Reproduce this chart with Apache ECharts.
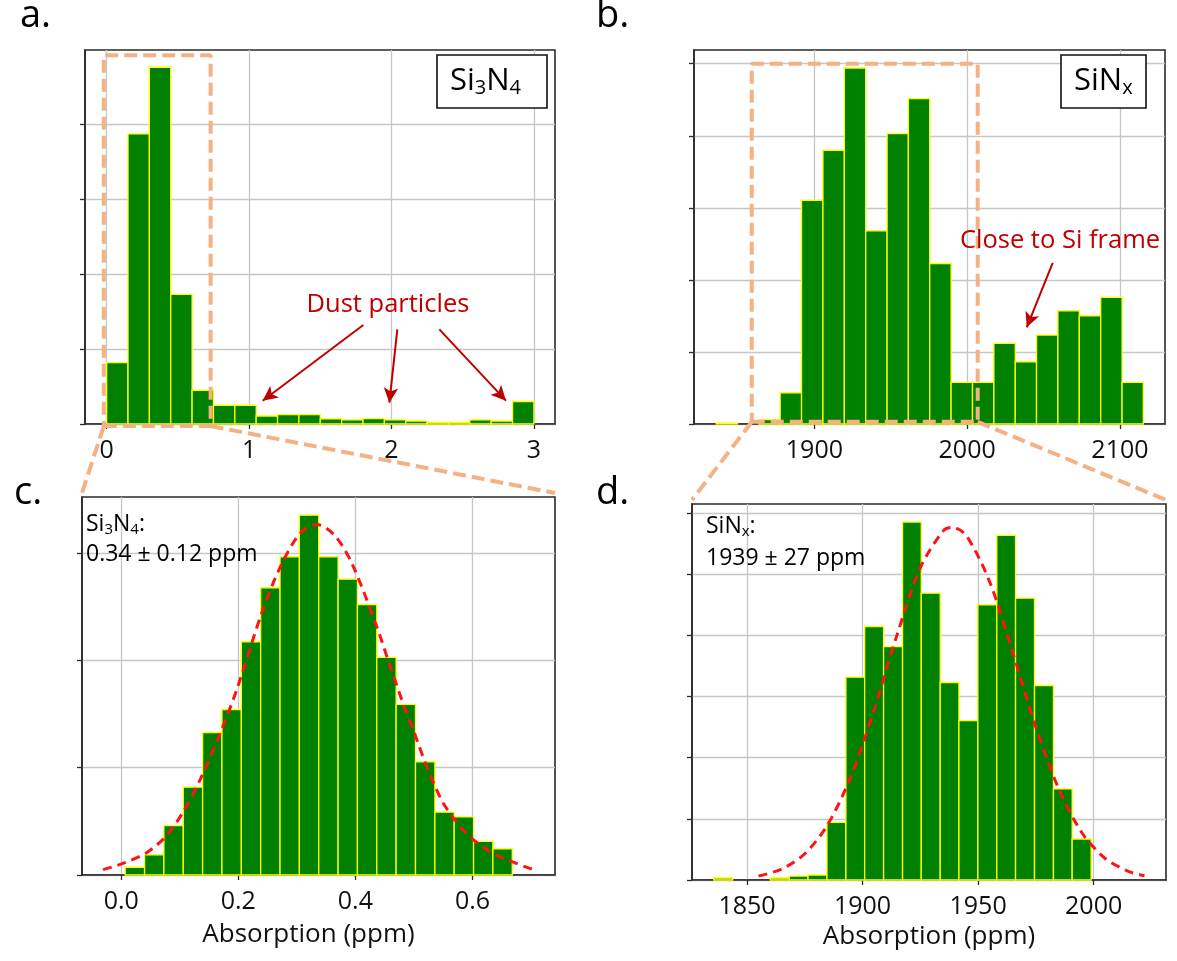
<!DOCTYPE html>
<html><head><meta charset="utf-8">
<script src="https://cdn.jsdelivr.net/npm/echarts@6/dist/echarts.min.js"></script>
<style>html,body{margin:0;padding:0;background:#fff}#c{width:1177px;height:961px}</style>
</head><body><div id="c"></div>
<script>
// ---------- DATA ----------
// panel a: Si3N4 full histogram (bin edges, counts in grid units)
const aEdges = [0,0.15,0.3,0.45,0.6,0.75,0.9,1.05,1.2,1.35,1.5,1.65,1.8,1.95,2.1,2.25,2.4,2.55,2.7,2.85,3.0];
const aCounts = [0.82,3.87,4.76,1.73,0.45,0.25,0.25,0.107,0.124,0.124,0.07,0.055,0.073,0.055,0.04,0.022,0.022,0.055,0.04,0.30];
const aTicks = [0,1,2,3];
const aYTicks = [0,1,2,3,4];
// panel b: SiNx full histogram
const bEdges = [1835.7,1849.7,1863.7,1877.6,1891.6,1905.6,1919.6,1933.6,1947.6,1961.5,1975.5,1989.5,2003.5,2017.5,2031.5,2045.4,2059.4,2073.4,2087.4,2101.4,2115.3];
const bCounts = [0.014,0,0.06,0.434,3.105,3.799,4.94,2.68,4.03,4.515,2.227,0.578,0.578,1.118,0.864,1.234,1.571,1.502,1.756,0.578];
const bTicks = [1900,2000,2100];
const bYTicks = [0,1,2,3,4,5];
// panel c: Si3N4 zoom
const cEdges = [0.0068,0.0399,0.0729,0.1060,0.1390,0.1721,0.2052,0.2382,0.2713,0.3043,0.3374,0.3705,0.4035,0.4366,0.4696,0.5027,0.5358,0.5688,0.6019,0.6349,0.6680];
const cCounts = [0.072,0.188,0.46,0.818,1.327,1.541,2.172,2.675,2.963,3.351,2.963,2.755,2.519,2.026,1.588,1.054,0.585,0.541,0.313,0.244];
const cFitX = [-0.031,0.004,0.044,0.078,0.106,0.135,0.169,0.197,0.240,0.271,0.305,0.334,0.365,0.395,0.436,0.456,0.482,0.499,0.522,0.550,0.584,0.613,0.647,0.704];
const cFitY = [0.05,0.11,0.21,0.37,0.59,0.89,1.32,1.72,2.44,2.86,3.18,3.265,3.16,2.89,2.32,2.00,1.59,1.35,1.01,0.67,0.42,0.28,0.17,0.05];
const cTicks = [0,0.2,0.4,0.6];
const cYTicks = [0,1,2,3];
// panel d: SiNx zoom
const dEdges = [1835.6,1843.8,1851.9,1860.1,1868.3,1876.4,1884.6,1892.8,1900.9,1909.1,1917.3,1925.4,1933.6,1941.7,1949.9,1958.1,1966.2,1974.4,1982.6,1990.7,1998.9];
const dCounts = [0.033,0,0,0.033,0.065,0.082,0.944,3.317,4.146,3.819,5.854,4.692,3.23,2.608,4.501,5.636,4.61,3.181,1.489,0.671];
const dFitX = [1855,1865,1875,1885,1895,1905,1915,1925,1935,1939,1945,1955,1965,1975,1985,1995,2005,2015,2022];
const dFitY = [0.065,0.179,0.43,0.911,1.698,2.782,4.018,5.107,5.714,5.767,5.627,4.877,3.721,2.50,1.479,0.769,0.352,0.142,0.07];
const dTicks = [1850,1900,1950,2000];
const dYTicks = [0,1,2,3,4,5,6];
// zoom boxes [x0,x1,y0,y1] in data units of panels a and b
const aBox = [-0.02,0.73,-0.027,4.92];
const bBox = [1859.0,2006.9,0.03,5.0];
// annotation arrows [[x1,y1],[x2,y2]] in data units
const aArrows = [[[1.802,1.32],[1.0955,0.311]],[[2.041,1.263],[1.985,0.284]],[[2.336,1.263],[2.804,0.311]]];
const bArrows = [[[2056.0,2.237],[2039.0,1.341]]];

// ---------- CHART ----------
const FONT = 'Open Sans';
const chart = echarts.init(document.getElementById('c'), null, {renderer:'canvas'});

const grids = [
  {left:85, top:50, width:470, height:374},
  {left:694, top:50, width:471, height:374},
  {left:82, top:497, width:473, height:378},
  {left:692, top:504, width:474, height:376}
];
const xr = [[-0.152,3.148],[1821.2,2129.5],[-0.067,0.741],[1826.2,2031.3]];
const yr = [[0,4.99],[0,5.19],[0,3.52],[0,6.15]];
const xt = [aTicks,bTicks,cTicks,dTicks];
const yt = [aYTicks,bYTicks,cYTicks,dYTicks];
const fmt = [v=>String(v), v=>String(v), v=>Number(v).toFixed(1), v=>String(v)];

function histData(edges, counts){ return counts.map((c,i)=>[edges[i],edges[i+1],c]); }
function boxData(b){ return [[b[0],b[2]],[b[1],b[2]],[b[1],b[3]],[b[0],b[3]],[b[0],b[2]]]; }
function renderBar(params, api){
  const x0=api.value(0), x1=api.value(1), h=api.value(2);
  if(!(h>0)) return null;
  const p0=api.coord([x0,0]), p1=api.coord([x1,h]);
  return {type:'rect', shape:{x:p0[0], y:p1[1], width:p1[0]-p0[0], height:p0[1]-p1[1]},
          style:{fill:'#008000', stroke:'#ffff00', lineWidth:1.3}};
}
const axisColor = '#2a2a2a';
const gridColor = '#c6c6c6';
const xAxes = grids.map((g,i)=>({
  gridIndex:i, type:'value', min:xr[i][0], max:xr[i][1],
  axisLine:{show:true, onZero:false, lineStyle:{color:axisColor, width:1.6}},
  axisTick:{show:true, length:5, customValues:xt[i], lineStyle:{color:axisColor, width:1.3}},
  axisLabel:{show:true, customValues:xt[i], formatter:fmt[i], fontFamily:FONT, fontSize:25, color:'#111', margin:14},
  splitLine:{show:true, lineStyle:{color:gridColor, width:1.3}},
  name: i>=2 ? 'Absorption (ppm)' : '', nameLocation:'middle', nameGap: i===2?47:44,
  nameTextStyle:{fontFamily:FONT, fontSize:26, color:'#111', padding: i===2?[0,20,0,0]:[0,0,0,0]}
}));
const yAxes = grids.map((g,i)=>({
  gridIndex:i, type:'value', min:yr[i][0], max:yr[i][1],
  axisLine:{show:true, onZero:false, lineStyle:{color:axisColor, width:1.6}},
  axisTick:{show:true, length:5, customValues:yt[i], lineStyle:{color:axisColor, width:1.3}},
  axisLabel:{show:false},
  splitLine:{show:true, lineStyle:{color:gridColor, width:1.3}}
}));
const arrowLine = (arr) => ({
  silent:true, symbol:['none','arrow'], symbolSize:[11,15],
  lineStyle:{color:'#c00000', width:2, type:'solid'}, label:{show:false}, emphasis:{disabled:true},
  data: arr.map(a=>[{coord:a[0]},{coord:a[1]}])
});
const ORANGE = '#f4b183';
const series = [
  {type:'custom', xAxisIndex:0, yAxisIndex:0, renderItem:renderBar, data:histData(aEdges,aCounts), encode:{x:[0,1], y:2}, clip:false, z:2},
  {type:'custom', xAxisIndex:1, yAxisIndex:1, renderItem:renderBar, data:histData(bEdges,bCounts), encode:{x:[0,1], y:2}, clip:false, z:2},
  {type:'custom', xAxisIndex:2, yAxisIndex:2, renderItem:renderBar, data:histData(cEdges,cCounts), encode:{x:[0,1], y:2}, clip:false, z:2},
  {type:'custom', xAxisIndex:3, yAxisIndex:3, renderItem:renderBar, data:histData(dEdges,dCounts), encode:{x:[0,1], y:2}, clip:false, z:2},
  {type:'line', xAxisIndex:2, yAxisIndex:2, data:cFitX.map((x,i)=>[x,cFitY[i]]), symbol:'none', smooth:0.3,
   lineStyle:{color:'#ff1414', width:3, type:[9,6]}, z:4, silent:true},
  {type:'line', xAxisIndex:3, yAxisIndex:3, data:dFitX.map((x,i)=>[x,dFitY[i]]), symbol:'none', smooth:0.3,
   lineStyle:{color:'#ff1414', width:3, type:[9,6]}, z:4, silent:true},
  {type:'line', xAxisIndex:0, yAxisIndex:0, data:boxData(aBox), symbol:'none', clip:false,
   lineStyle:{color:ORANGE, width:4, type:[13,6]}, z:5, silent:true, markLine:arrowLine(aArrows)},
  {type:'line', xAxisIndex:1, yAxisIndex:1, data:boxData(bBox), symbol:'none', clip:false,
   lineStyle:{color:ORANGE, width:4, type:[13,6]}, z:5, silent:true, markLine:arrowLine(bArrows)}
];
chart.setOption({
  animation:false, backgroundColor:'#fff',
  grid: grids.map(g=>Object.assign({show:true, borderColor:axisColor, borderWidth:1.6, backgroundColor:'transparent'}, g)),
  xAxis:xAxes, yAxis:yAxes, series:series
});

// ---------- GRAPHICS (labels, boxes, connectors) ----------
const P = (gi, pt) => chart.convertToPixel({gridIndex:gi}, pt);
const conn = [
  [P(0,[aBox[0],aBox[2]]), P(2,[xr[2][0],yr[2][1]])],
  [P(0,[aBox[1],aBox[2]]), P(2,[xr[2][1],yr[2][1]])],
  [P(1,[bBox[0],bBox[2]]), P(3,[xr[3][0],yr[3][1]])],
  [P(1,[bBox[1],bBox[2]]), P(3,[xr[3][1],yr[3][1]])]
];
const g = [];
conn.forEach(c=>g.push({type:'line', z:100, silent:true, shape:{x1:c[0][0],y1:c[0][1],x2:c[1][0],y2:c[1][1]-4},
  style:{stroke:ORANGE, lineWidth:4, lineDash:[13,6]}}));
const panelLabel = (t,x,y)=>({type:'text', z:100, x:x, y:y, style:{text:t, font:'38px "Open Sans"', fill:'#000', verticalAlign:'middle', align:'left'}});
g.push(panelLabel('a.',20,16), panelLabel('b.',596,16), panelLabel('c.',14,493), panelLabel('d.',596,493));
// boxed labels
const bigRich = {m:{fontFamily:FONT, fontSize:31, lineHeight:34, fill:'#000'}, s:{fontFamily:FONT, fontSize:20, lineHeight:14, verticalAlign:'bottom', fill:'#000'}};
g.push({type:'rect', z:100, shape:{x:437,y:55,width:110,height:53}, style:{fill:'#fff', stroke:'#111', lineWidth:1.6}});
g.push({type:'text', z:101, x:450, y:64, style:{text:'{m|Si}{s|3}{m|N}{s|4}', rich:bigRich, align:'left', verticalAlign:'top'}});
g.push({type:'rect', z:100, shape:{x:1061,y:55,width:85,height:53}, style:{fill:'#fff', stroke:'#111', lineWidth:1.6}});
g.push({type:'text', z:101, x:1074, y:64, style:{text:'{m|SiN}{s|x}', rich:bigRich, align:'left', verticalAlign:'top'}});
// red annotations
g.push({type:'text', z:100, x:388, y:305, style:{text:'Dust particles', font:'25.5px "Open Sans"', fill:'#c00000', align:'center', verticalAlign:'middle'}});
g.push({type:'text', z:100, x:1060, y:241, style:{text:'Close to Si frame', font:'25.5px "Open Sans"', fill:'#c00000', align:'center', verticalAlign:'middle'}});
// c and d in-plot text
const smRich = {m:{fontFamily:FONT, fontSize:23, lineHeight:25, fill:'#000'}, s:{fontFamily:FONT, fontSize:15, lineHeight:10, verticalAlign:'bottom', fill:'#000'}};
g.push({type:'text', z:100, x:86, y:512, style:{text:'{m|Si}{s|3}{m|N}{s|4}{m|:}', rich:smRich, align:'left', verticalAlign:'top'}});
g.push({type:'text', z:100, x:86, y:554, style:{text:'0.34 \u00b1 0.12 ppm', font:'23px "Open Sans"', fill:'#000', align:'left', verticalAlign:'middle'}});
g.push({type:'text', z:100, x:706, y:514, style:{text:'{m|SiN}{s|x}{m|:}', rich:smRich, align:'left', verticalAlign:'top'}});
g.push({type:'text', z:100, x:706, y:558, style:{text:'1939 \u00b1 27 ppm', font:'23px "Open Sans"', fill:'#000', align:'left', verticalAlign:'middle'}});
chart.setOption({graphic:g});
</script></body></html>
